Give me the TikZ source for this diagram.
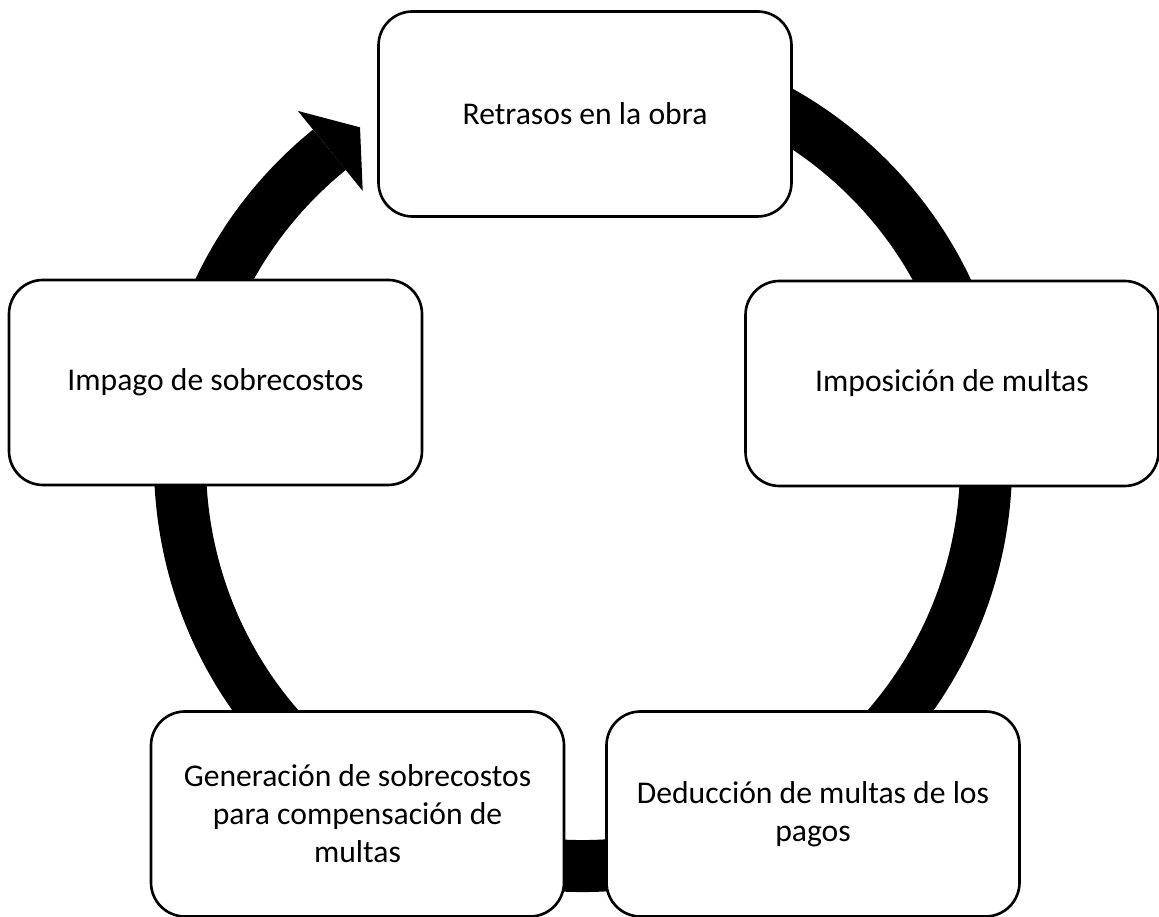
\documentclass[tikz,border=0pt]{standalone}
\usepackage{fontspec}
\setmainfont{Carlito}
\usepackage{tikz}
\usetikzlibrary{calc,positioning}

\begin{document}
\begin{tikzpicture}[caja/.style={draw,fill=white,line width=1.5pt,rounded corners=0.68cm,
        minimum width=8.26cm,minimum height=4.1cm,align=center,
        font=\fontsize{18}{21.6}\selectfont}]
            \useasboundingbox (0,0) rectangle (23.18,18.34);
            \coordinate (centro) at (11.66,9.08);

            \draw[line width=1.04cm] (centro) ++(100:8.06) arc[start angle=100,end angle=-231,radius=8.06];
            \fill[shift={(centro)}] (129:9.06) -- (123.6:8.06) -- (129:7.0) -- cycle;

            \node[caja] (retrasos) at (11.70,16.06) {Retrasos en la obra};
            \node[caja] (imposicion) at (19.04,10.67) {Imposición de multas};
            \node[caja] (deduccion) at (16.26,2.06) {Deducción de multas de los\\pagos};
            \node[caja] (generacion) at (7.15,2.06) {Generación de sobrecostos\\para compensación de\\multas};
            \node[caja] (impago) at (4.31,10.69) {Impago de sobrecostos};
        \end{tikzpicture}
\end{document}
